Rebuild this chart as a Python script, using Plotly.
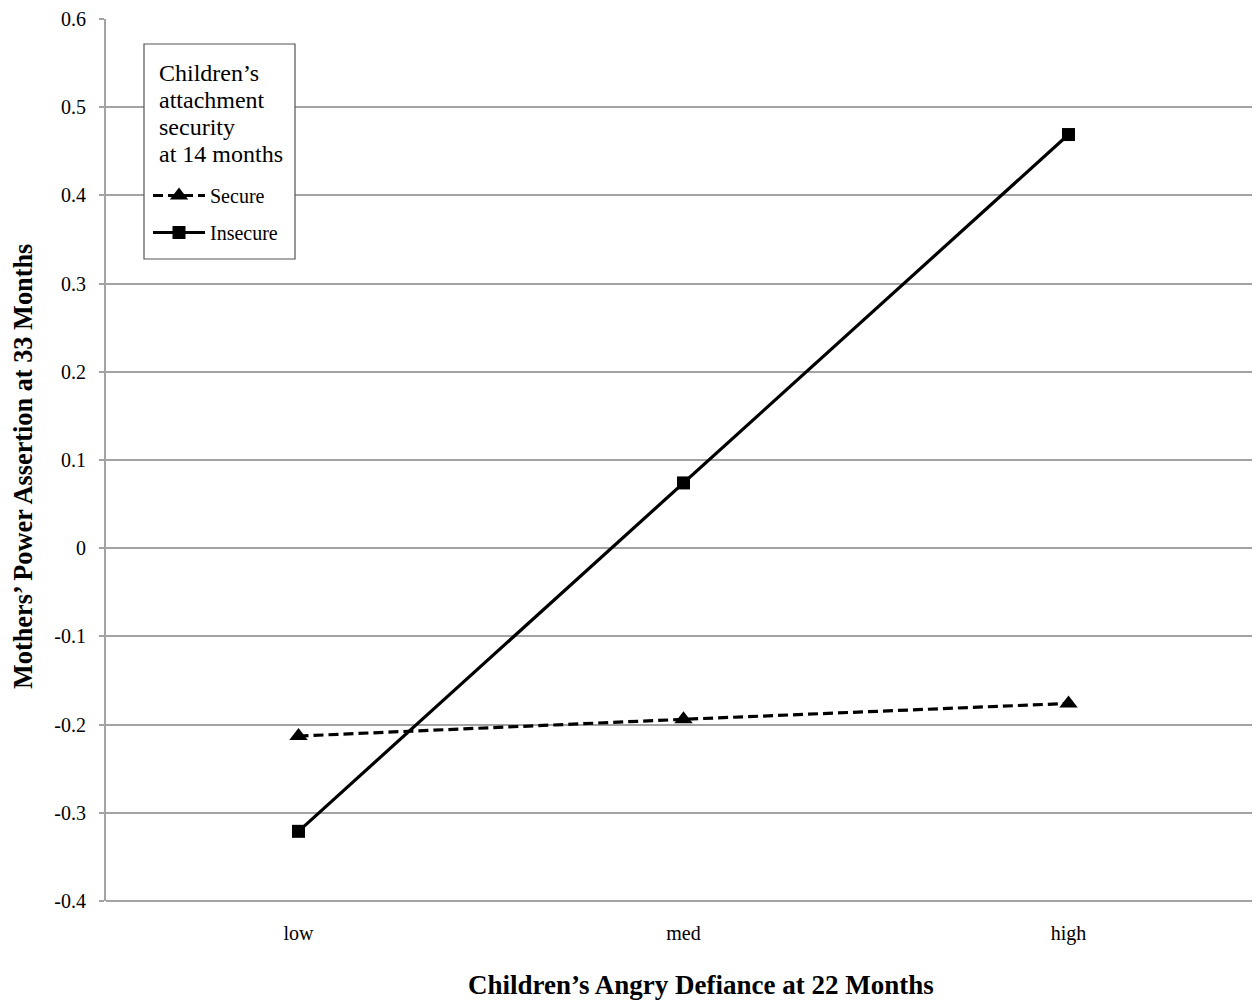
import plotly.graph_objects as go

categories = ["low", "med", "high"]
secure = [-0.213, -0.194, -0.176]
insecure = [-0.321, 0.074, 0.469]
y_ticks = [-0.4, -0.3, -0.2, -0.1, 0, 0.1, 0.2, 0.3, 0.4, 0.5, 0.6]
y_tick_labels = ["-0.4", "-0.3", "-0.2", "-0.1", "0", "0.1", "0.2", "0.3", "0.4", "0.5", "0.6"]
legend_title_lines = ["Children’s", "attachment", "security", "at 14 months"]

FONT = "Liberation Serif"

# page-pixel helpers for the plot area (plot spans x 105..1260, y 19..901 on page)
PX0, PX1, PY0, PY1 = 105.0, 1260.0, 19.0, 901.0
def px(x):
    return (x - PX0) / (PX1 - PX0)
def py(y):
    return (PY1 - y) / (PY1 - PY0)

fig = go.Figure()
fig.add_trace(go.Scatter(
    x=categories, y=secure, name="Secure", mode="lines+markers", legendgroup="a",
    line=dict(color="black", width=3.2, dash="10px,5px"),
    marker=dict(symbol="triangle-up", size=16, color="black"),
))
fig.add_trace(go.Scatter(
    x=categories, y=insecure, name="Insecure", mode="lines+markers", legendgroup="b",
    line=dict(color="black", width=3.2),
    marker=dict(symbol="square", size=13, color="black"),
))

annotations = []
for i, line in enumerate(legend_title_lines):
    annotations.append(dict(
        text=line, xref="paper", yref="paper", x=px(156), y=py(73 + 27 * i),
        xanchor="left", yanchor="middle", showarrow=False,
        font=dict(family=FONT, size=24, color="black"),
    ))
annotations.append(dict(
    text="<b>Children’s Angry Defiance at 22 Months</b>",
    xref="paper", yref="paper", x=px(700), y=0, yshift=-84,
    xanchor="center", yanchor="middle", showarrow=False,
    font=dict(family=FONT, size=27, color="black"),
))
annotations.append(dict(
    text="<b>Mothers’ Power Assertion at 33 Months</b>",
    xref="paper", yref="paper", x=0, xshift=-(105 - 22), y=py(467),
    xanchor="center", yanchor="middle", textangle=-90, showarrow=False,
    font=dict(family=FONT, size=26.3, color="black"),
))

fig.update_layout(
    width=1253, height=993,
    margin=dict(l=98, r=0, t=11, b=100),
    plot_bgcolor="white", paper_bgcolor="white",
    font=dict(family=FONT, color="black", size=20),
    showlegend=True,
    legend=dict(
        x=px(147), y=py(176), xanchor="left", yanchor="top",
        borderwidth=0, bgcolor="rgba(0,0,0,0)",
        font=dict(family=FONT, size=20),
        tracegroupgap=8, itemwidth=52,
    ),
    annotations=annotations,
    xaxis=dict(
        type="category", range=[-0.5, 2.5],
        showgrid=False, zeroline=False, showline=False, ticks="",
        tickfont=dict(family=FONT, size=20),
        ticklabelstandoff=18,
    ),
    yaxis=dict(
        range=[-0.4, 0.6], tickvals=y_ticks, ticktext=y_tick_labels,
        showgrid=True, gridcolor="#a3a3a3", gridwidth=1.5,
        zeroline=False, showline=True, linecolor="#a3a3a3", linewidth=2,
        ticks="outside", ticklen=5, tickcolor="#a3a3a3", tickwidth=1.5,
        tickfont=dict(family=FONT, size=20),
        ticklabelstandoff=9,
    ),
    shapes=[
        dict(type="line", xref="paper", yref="paper", x0=0, x1=1, y0=0, y1=0,
             line=dict(color="#a3a3a3", width=2)),
        dict(type="rect", xref="paper", yref="paper",
             x0=px(143), x1=px(294), y0=py(259), y1=py(44),
             line=dict(color="#555555", width=1.2), fillcolor="white", layer="above"),
    ],
)

fig.write_html("out.html")
